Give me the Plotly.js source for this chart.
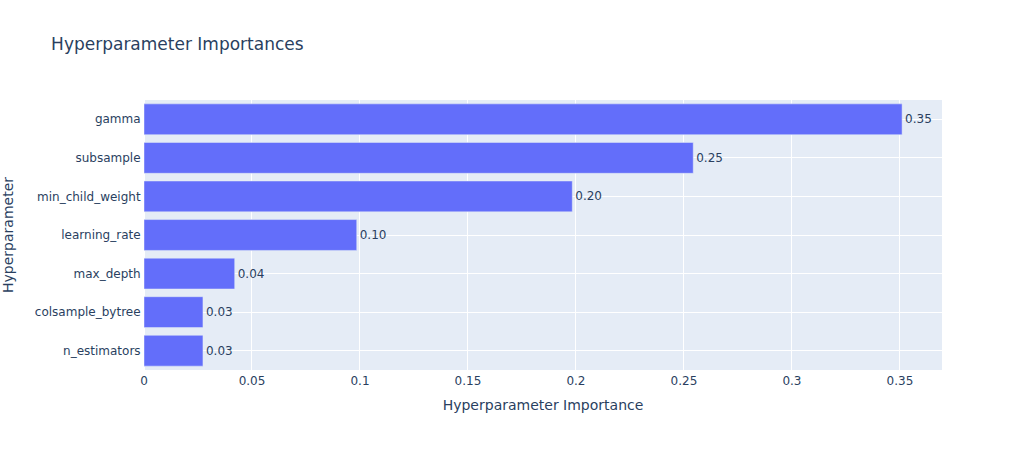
<!DOCTYPE html>
<html>
<head>
<meta charset="utf-8">
<script src="https://cdn.plot.ly/plotly-3.0.1.min.js"></script>
<style>body{margin:0;padding:0;}</style>
</head>
<body>
<div id="chart" style="width:1022px;height:450px;"></div>
<script>
const paramNames = ["n_estimators", "colsample_bytree", "max_depth", "learning_rate", "min_child_weight", "subsample", "gamma"];
const importances = [0.0273, 0.0273, 0.042, 0.0985, 0.1983, 0.2543, 0.351];
const labels = importances.map(v => v.toFixed(2));

const trace = {
  type: "bar",
  orientation: "h",
  x: importances,
  y: paramNames,
  text: labels,
  textposition: "outside",
  cliponaxis: false,
  marker: {color: "#636efa", line: {color: "#E5ECF6", width: 0.5}},
  showlegend: false
};

const layout = {
  width: 1022,
  height: 450,
  margin: {l: 144, r: 80, t: 100, b: 80},
  title: {text: "Hyperparameter Importances", x: 0.05},
  xaxis: {
    title: {text: "Hyperparameter Importance", standoff: 12},
    gridcolor: "white", zerolinecolor: "white", zerolinewidth: 2,
    linecolor: "white", ticks: "", automargin: false
  },
  yaxis: {
    title: {text: "Hyperparameter", standoff: 20}, automargin: false,
    gridcolor: "white", linecolor: "white", ticks: "", ticklabelstandoff: 0
  },
  showlegend: false,
  paper_bgcolor: "#fff",
  plot_bgcolor: "#E5ECF6",
  font: {family: "DejaVu Sans, Verdana, sans-serif", color: "#2a3f5f"}
};

Plotly.newPlot("chart", [trace], layout, {displayModeBar: false});
</script>
</body>
</html>
